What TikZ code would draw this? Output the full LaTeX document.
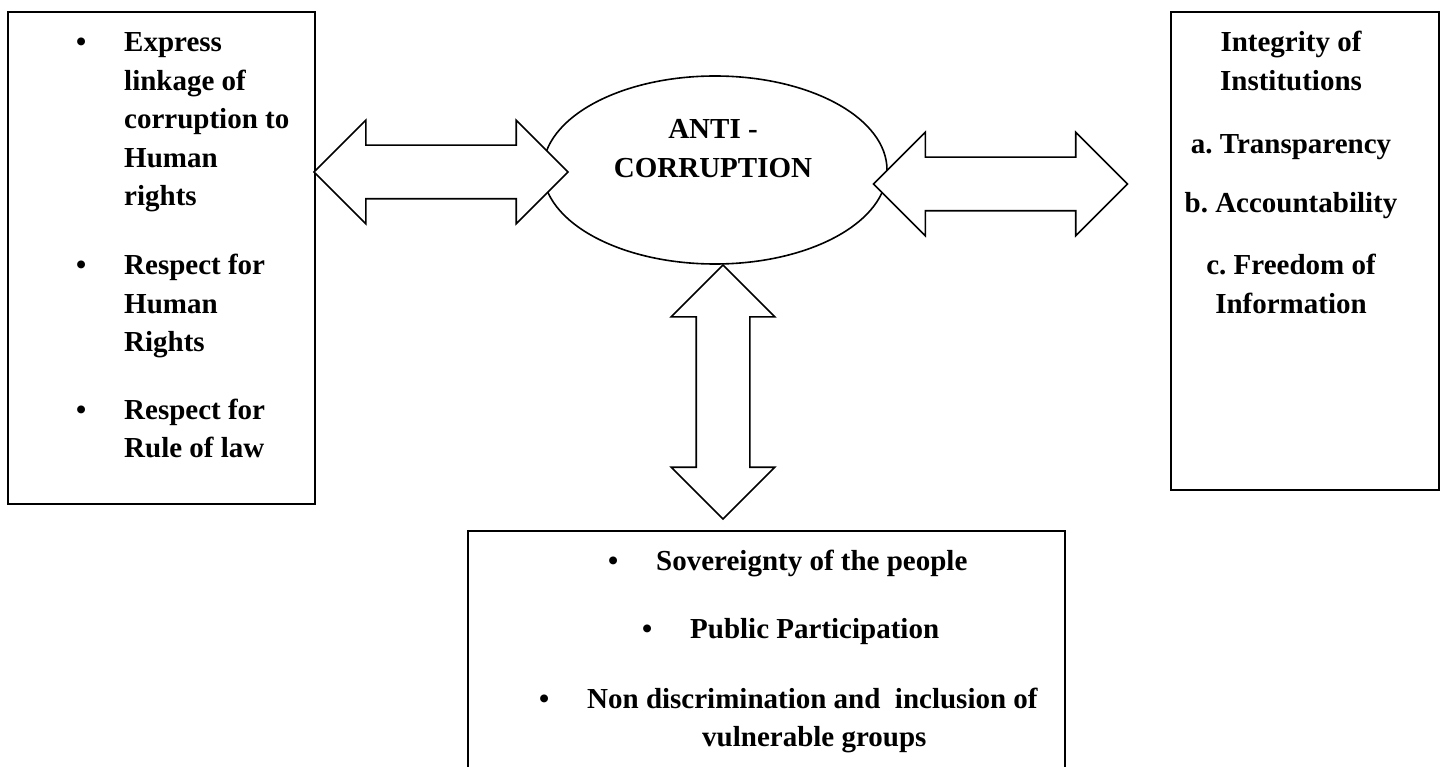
\documentclass[tikz,border=0pt]{standalone}
\usepackage{fontspec}
\setmainfont{Liberation Serif}
\usetikzlibrary{positioning, shapes.geometric, shapes.arrows}

\newcommand{\bul}{\makebox[48pt][l]{\textbullet}}

\begin{document}
\frenchspacing
\begin{tikzpicture}[
    x=1pt, y=-1pt,
    panel/.style={rectangle, draw, line width=1.8pt, inner sep=0pt, anchor=north west},
    hub/.style={ellipse, draw, line width=1.6pt, minimum width=344pt, minimum height=188pt, inner sep=0pt},
    dblarrow/.style={double arrow, draw, fill=white, line width=1.6pt, minimum height=254pt, minimum width=102pt, double arrow head extend=25pt, double arrow tip angle=90, inner xsep=0pt, inner ysep=26pt},
    txt/.style={font=\fontsize{29}{38.5}\selectfont\bfseries, inner sep=0pt, anchor=base west}
]
\useasboundingbox (0,0) rectangle (1442,767);
\clip (0,0) rectangle (1442,767);

% Centre
\node[hub] (anti) at (715,170) {};
\node[txt, anchor=base] (antitext) at (713,139) {\parbox[t]{220pt}{\centering ANTI -\\CORRUPTION}};

% Boxes
\node[panel, minimum width=307pt, minimum height=492pt] (leftbox) at (7,11) {};
\node[panel, minimum width=268pt, minimum height=478pt] (rightbox) at (1170,11) {};
\node[panel, minimum width=597pt, minimum height=260pt] (bottombox) at (467,530) {};

% Double arrows
\node[dblarrow] (leftarr) at (441,172) {};
\node[dblarrow] (rightarr) at (1000.5,184) {};
\node[dblarrow, rotate=90] (downarr) at (723,392) {};

% Left box text
\node[txt] (litem1) at (76,52) {\bul\parbox[t]{190pt}{Express\\linkage of\\corruption to\\Human\\rights}};
\node[txt] (litem2) at (76,275) {\bul\parbox[t]{190pt}{Respect for\\Human\\Rights}};
\node[txt] (litem3) at (76,419) {\bul\parbox[t]{190pt}{Respect for\\Rule of law}};

% Right box text
\node[txt, anchor=base] (rtitle) at (1291,52) {\parbox[t]{260pt}{\centering Integrity of\\Institutions}};
\node[txt, anchor=base] (ritem1) at (1291,154) {a. Transparency};
\node[txt, anchor=base] (ritem2) at (1291,213) {b. Accountability};
\node[txt, anchor=base] (ritem3) at (1291,275) {\parbox[t]{260pt}{\centering c. Freedom of\\Information}};

% Bottom box text
\node[txt] (bitem1) at (608,570) {\bul Sovereignty of the people};
\node[txt] (bitem2) at (642,638) {\bul Public Participation};
\node[txt] (bitem3) at (539,708) {\bul\parbox[t]{470pt}{Non discrimination and~ inclusion of\\\hspace*{115pt}vulnerable groups}};

\end{tikzpicture}
\end{document}
